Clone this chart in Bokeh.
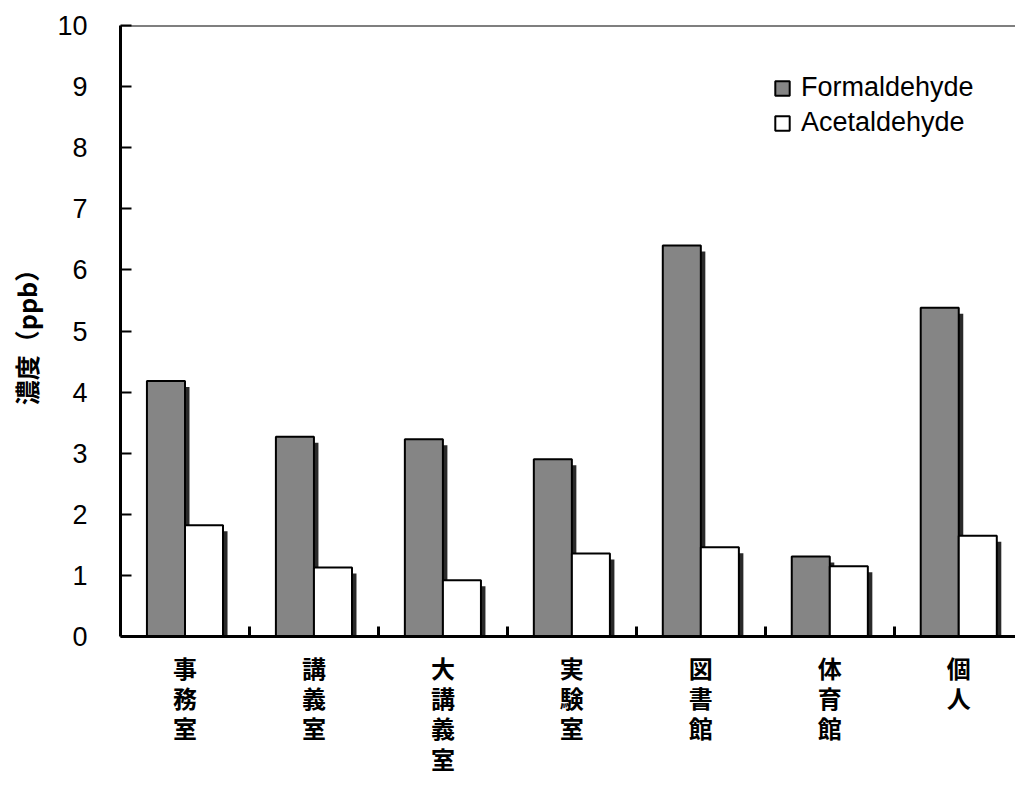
from bokeh.plotting import figure
from bokeh.models import FixedTicker, LinearAxis, Span, Legend, LegendItem, Range1d
from bokeh.embed import file_html
from bokeh.resources import INLINE

categories = ["事務室", "講義室", "大講義室", "実験室", "図書館", "体育館", "個人"]
formaldehyde = [4.18, 3.27, 3.23, 2.90, 6.40, 1.31, 5.38]
acetaldehyde = [1.82, 1.13, 0.92, 1.36, 1.46, 1.15, 1.65]
y_ticks = list(range(0, 11))
series_names = ["Formaldehyde", "Acetaldehyde"]
y_label = "濃度（ppb）"

n = len(categories)
centers = [i + 0.5 for i in range(n)]
bw = 0.295
fx = [c - 0.1475 for c in centers]
ax = [c + 0.1475 for c in centers]
px_per_x = 128.9
px_per_y = 61.1
sdx = 4.5 / px_per_x
sdy = 6 / px_per_y

p = figure(width=1015, height=794, output_backend="svg", toolbar_location=None,
           x_range=Range1d(0, 6.94), y_range=Range1d(0, 10),
           min_border_left=120, min_border_right=0, min_border_top=25, min_border_bottom=158)
p.xaxis.visible = False
p.yaxis.visible = False
p.grid.visible = False
p.outline_line_color = None
p.background_fill_color = "white"
p.border_fill_color = "white"

shadow = "#2a2a2a"
gray = "#858585"

p.vbar(x=[x + sdx for x in fx], bottom=0, top=[v - sdy for v in formaldehyde], width=bw,
       fill_color=shadow, line_color=None)
rf = p.vbar(x=fx, bottom=0, top=formaldehyde, width=bw, fill_color=gray,
            line_color="black", line_width=2)
p.vbar(x=[x + sdx for x in ax], bottom=0, top=[v - sdy for v in acetaldehyde], width=bw,
       fill_color=shadow, line_color=None)
ra = p.vbar(x=ax, bottom=0, top=acetaldehyde, width=bw, fill_color="white",
            line_color="black", line_width=2)

# x axis
xaxis = LinearAxis(ticker=FixedTicker(ticks=centers, minor_ticks=list(range(1, n))))
xaxis.major_label_overrides = {c: "\n".join(list(cat)) for c, cat in zip(centers, categories)}
xaxis.major_tick_line_color = None
xaxis.minor_tick_in = 10
xaxis.minor_tick_out = 0
xaxis.minor_tick_line_width = 3
xaxis.minor_tick_line_color = "black"
xaxis.axis_line_width = 3
xaxis.axis_line_color = "black"
xaxis.major_label_standoff = 7
xaxis.major_label_text_font = "Noto Sans CJK JP"
xaxis.major_label_text_font_style = "bold"
xaxis.major_label_text_font_size = "24px"
xaxis.major_label_text_color = "black"
xaxis.major_label_text_line_height = 0.87
p.add_layout(xaxis, "below")

# y axis
yaxis = LinearAxis(ticker=FixedTicker(ticks=y_ticks), axis_label=y_label)
yaxis.major_tick_in = 11
yaxis.major_tick_out = 0
yaxis.major_tick_line_width = 2
yaxis.minor_tick_line_color = None
yaxis.axis_line_width = 3
yaxis.axis_line_color = "black"
yaxis.major_label_standoff = 33
yaxis.major_label_text_font = "Liberation Sans"
yaxis.major_label_text_font_size = "27px"
yaxis.major_label_text_color = "black"
yaxis.axis_label_text_font = "Noto Sans CJK JP"
yaxis.axis_label_text_font_style = "bold"
yaxis.axis_label_text_font_size = "25px"
yaxis.axis_label_text_color = "black"
yaxis.axis_label_standoff = 10
p.add_layout(yaxis, "left")

p.add_layout(Span(location=10, dimension="width", line_color="black", line_width=2))

legend = Legend(items=[LegendItem(label=series_names[0], renderers=[rf]),
                       LegendItem(label=series_names[1], renderers=[ra])],
                location=(653, 498))
legend.border_line_color = None
legend.background_fill_alpha = 0
legend.padding = 0
legend.margin = 0
legend.spacing = 4
legend.glyph_width = 18
legend.glyph_height = 18
legend.label_standoff = 10
legend.label_text_font = "Liberation Sans"
legend.label_text_font_size = "27px"
legend.label_text_color = "black"
legend.label_height = 31
p.add_layout(legend, "center")

open("out.html", "w").write(file_html(p, INLINE))
